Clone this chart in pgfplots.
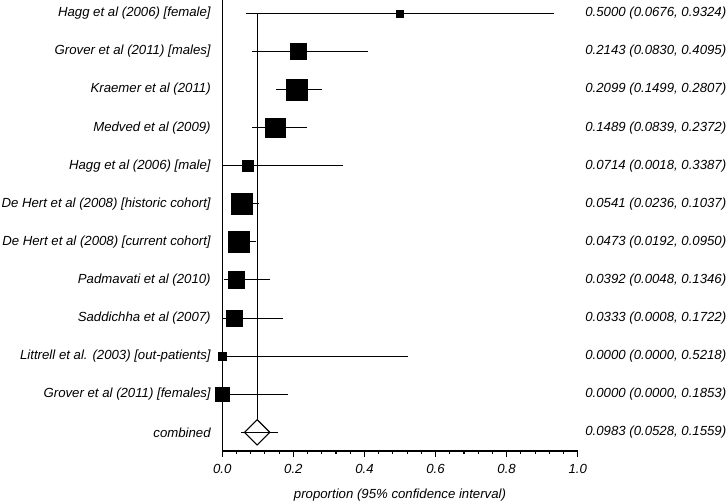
\documentclass[border=0pt]{standalone}
\usepackage{pgfplots}
\pgfplotsset{compat=1.18}
\usepackage{pgfplotstable}
\usepackage{fontspec}
\setmainfont{Liberation Sans}

\pgfplotstableread{
y x lo hi ms
11 0.5000 0.0676 0.9324 2.6
10 0.2143 0.0830 0.4095 5.9
9 0.2099 0.1499 0.2807 7.9
8 0.1489 0.0839 0.2372 7.4
7 0.0714 0.0018 0.3387 4.4
6 0.0541 0.0236 0.1037 7.9
5 0.0473 0.0192 0.0950 7.8
4 0.0392 0.0048 0.1346 6.25
3 0.0333 0.0008 0.1722 6.0
2 0.0000 0.0000 0.5218 3.25
1 0.0000 0.0000 0.1853 5.4
}\studies

\newcommand{\lblfont}{\fontsize{9.9}{12}\selectfont\itshape}

\begin{document}
\begin{tikzpicture}
\begin{axis}[
  scale only axis, width=266.6pt, height=338.2pt,
  xmin=0, xmax=1, ymin=-0.49, ymax=11.35,
  clip=false,
  axis x line=bottom, axis y line=left,
  axis line style={line width=0.8pt, -, black},
  xtick={0,0.2,0.4,0.6,0.8,1.0},
  xticklabels={0.0,0.2,0.4,0.6,0.8,1.0},
  minor xtick={0.04,0.08,0.12,0.16,0.24,0.28,0.32,0.36,0.44,0.48,0.52,0.56,0.64,0.68,0.72,0.76,0.84,0.88,0.92,0.96},
  tick align=outside,
  major tick length=4.5pt, minor tick length=2.5pt,
  x tick style={line width=0.8pt, black},
  every minor tick/.style={line width=0.8pt, black},
  ytick={0,...,11},
  yticklabels={{combined},{Grover et al (2011) [females]},{Littrell et al. (2003) [out-patients]},{Saddichha et al (2007)},{Padmavati et al (2010)},{De Hert et al (2008) [current cohort]},{De Hert et al (2008) [historic cohort]},{Hagg et al (2006) [male]},{Medved et al (2009)},{Kraemer et al (2011)},{Grover et al (2011) [males]},{Hagg et al (2006) [female]}},
  y tick style={draw=none},
  tick label style={font=\lblfont},
  yticklabel style={inner sep=0pt, anchor=east, xshift=-4pt},
  xticklabel style={inner sep=1pt, yshift=-4.5pt},
  xlabel={proportion (95\% confidence interval)},
  xlabel style={font=\lblfont, at={(axis description cs:0.5,0)}, anchor=center, yshift=-33pt},
]
% CI lines of studies
\addplot[draw=none, mark=none,
  error bars/.cd, x dir=both, x explicit, error mark=none,
  error bar style={draw=black, line width=0.75pt}]
  table[x=x, y=y, x error plus expr=\thisrow{hi}-\thisrow{x}, x error minus expr=\thisrow{x}-\thisrow{lo}] {\studies};
% squares
\addplot[scatter, only marks, mark=square*,
  scatter/use mapped color={draw=black, fill=black},
  visualization depends on={\thisrow{ms} \as \msize},
  scatter/@pre marker code/.append style={/tikz/mark size=\msize pt}]
  table[x=x, y=y] {\studies};
% combined diamond
\addplot[only marks, mark=square, mark size=6.7pt,
  mark options={rotate=45, fill=white, draw=black, line width=0.8pt}]
  coordinates {(0.0983,0)};
\addplot[black, line width=0.75pt, mark=none] coordinates {(0.0528,0) (0.1559,0)};
\addplot[black, line width=0.8pt, mark=none] coordinates {(0.0983,11) (0.0983,0.338)};
% right-hand labels
\begin{scope}[every node/.style={anchor=west, font=\lblfont, inner sep=0pt, xshift=5.5pt}]
\node at (axis cs:1,11) {0.5000 (0.0676, 0.9324)};
\node at (axis cs:1,10) {0.2143 (0.0830, 0.4095)};
\node at (axis cs:1,9) {0.2099 (0.1499, 0.2807)};
\node at (axis cs:1,8) {0.1489 (0.0839, 0.2372)};
\node at (axis cs:1,7) {0.0714 (0.0018, 0.3387)};
\node at (axis cs:1,6) {0.0541 (0.0236, 0.1037)};
\node at (axis cs:1,5) {0.0473 (0.0192, 0.0950)};
\node at (axis cs:1,4) {0.0392 (0.0048, 0.1346)};
\node at (axis cs:1,3) {0.0333 (0.0008, 0.1722)};
\node at (axis cs:1,2) {0.0000 (0.0000, 0.5218)};
\node at (axis cs:1,1) {0.0000 (0.0000, 0.1853)};
\node at (axis cs:1,0) {0.0983 (0.0528, 0.1559)};
\end{scope}
\coordinate (O) at (rel axis cs:0,0);
\end{axis}
\pgfresetboundingbox
\path[use as bounding box] (O) ++(-166.7pt,-36.75pt) rectangle ++(545.25pt,375pt);
\end{tikzpicture}
\end{document}
